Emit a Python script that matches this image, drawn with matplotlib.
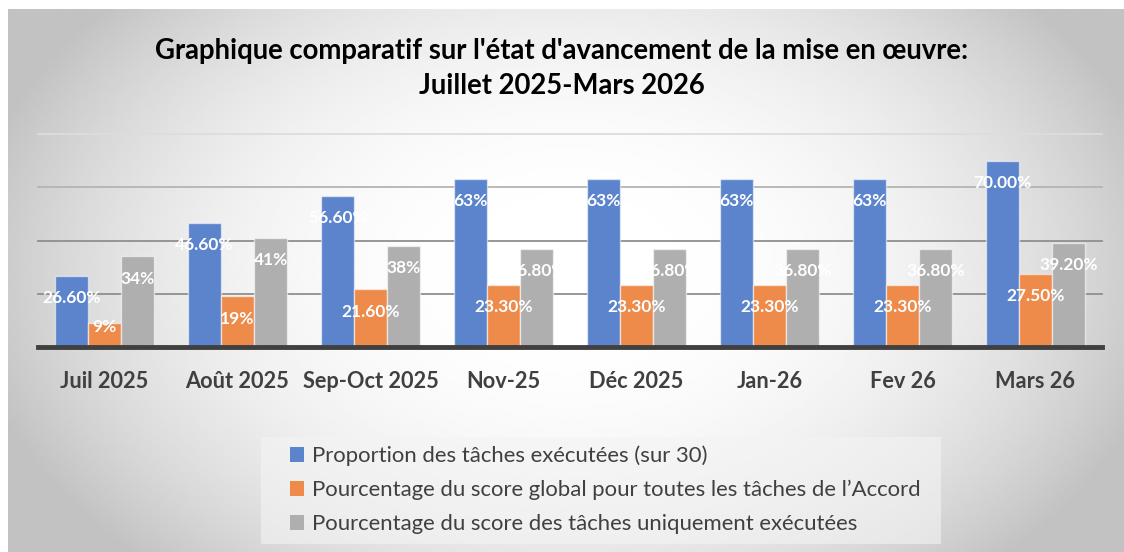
import numpy as np
import matplotlib.pyplot as plt
from matplotlib.patches import Patch, Rectangle

plt.rcParams['font.family'] = ['Lato', 'DejaVu Sans']

# data
months = ['Juil 2025', 'Août 2025', 'Sep-Oct 2025', 'Nov-25', 'Déc 2025', 'Jan-26', 'Fev 26', 'Mars 26']
series_names = ['Proportion des tâches exécutées (sur 30)',
                'Pourcentage du score global pour toutes les tâches de l\u2019Accord',
                'Pourcentage du score des tâches uniquement exécutées']
proportion = [26.6, 46.6, 56.6, 63, 63, 63, 63, 70.0]
score_global = [9, 19, 21.6, 23.3, 23.3, 23.3, 23.3, 27.5]
score_executees = [34, 41, 38, 36.8, 36.8, 36.8, 36.8, 39.2]
labels_proportion = ['26.60%', '46.60%', '56.60%', '63%', '63%', '63%', '63%', '70.00%']
labels_global = ['9%', '19%', '21.60%', '23.30%', '23.30%', '23.30%', '23.30%', '27.50%']
labels_executees = ['34%', '41%', '38%', '36.80%', '36.80%', '36.80%', '36.80%', '39.20%']
grid_values = [20, 40, 60, 80]

colors = ['#5B84CC', '#EE8B4B', '#AFAFAF']

W, H = 1124, 552
fig = plt.figure(figsize=(W / 100, H / 100), dpi=100)
fig.patch.set_facecolor('white')

# radial gradient background of the chart area
bg = fig.add_axes([8 / W, 0, 1 - 8 / W, 1 - 9 / H])
bg.set_axis_off()
xx, yy = np.meshgrid(np.linspace(8, W, 400), np.linspace(9, H, 200))
r = np.sqrt(((xx - 570) / 620) ** 2 + ((yy - 270) / 420) ** 2)
shade = np.clip(255 - 64 * r ** 2.5, 194, 255) / 255
bg.imshow(shade, cmap='gray', vmin=0, vmax=1, extent=[0, 1, 0, 1],
          aspect='auto', origin='upper', interpolation='bilinear')
bg.set_xlim(0, 1)
bg.set_ylim(0, 1)

ax = fig.add_axes([38 / W, (H - 347) / H, 1064 / W, 213 / H])
ax.patch.set_alpha(0)
ax.set_xlim(-0.5, len(months) - 0.5)
ax.set_ylim(0, 80)

grid_colors = {20: '#8f8f8f', 40: '#8f8f8f', 60: '#b4b4b4', 80: '#dddddd'}
for g in grid_values:
    ax.axhline(g, color=grid_colors[g], lw=1.3, zorder=0, clip_on=False)

x = np.arange(len(months))
w = 0.25
all_vals = [proportion, score_global, score_executees]
all_labels = [labels_proportion, labels_global, labels_executees]
for k, (vals, labs) in enumerate(zip(all_vals, all_labels)):
    pos = x + (k - 1) * w
    ax.bar(pos, vals, width=w, color=colors[k], edgecolor=(1, 1, 1, 0.55),
           linewidth=1, zorder=2)
    for px, v, lab in zip(pos, vals, labs):
        ly = max(v - 8.3, 7.6)
        ax.text(px, ly, lab, color='white', fontweight='bold', fontsize=12.5,
                ha='center', va='center', zorder=3)

ax.axhline(0, color='#404040', lw=3.5, zorder=4, clip_on=False)

ax.set_xticks(x)
ax.set_xticklabels(months, fontsize=15.7, fontweight='bold', color='#404040')
ax.tick_params(axis='x', length=0, pad=17)
ax.set_yticks([])
for s in ax.spines.values():
    s.set_visible(False)

fig.text(0.5, 1 - 51 / H, "Graphique comparatif sur l'état d'avancement de la mise en œuvre:",
         ha='center', va='center', fontsize=19.8, fontweight='bold', color='black')
fig.text(0.5, 1 - 86 / H, 'Juillet 2025-Mars 2026',
         ha='center', va='center', fontsize=19.8, fontweight='bold', color='black')

# legend panel
fig.patches.append(Rectangle((261 / W, 1 - 544 / H), 680 / W, 107 / H,
                             transform=fig.transFigure, facecolor='#f4f4f4',
                             edgecolor='none', alpha=0.6, zorder=1))
handles = [Patch(facecolor=c, edgecolor='none') for c in colors]
leg = fig.legend(handles, series_names, loc='upper left',
                 bbox_to_anchor=(272 / W, 1 - 428 / H), frameon=False,
                 fontsize=15.9, handlelength=0.65, handleheight=0.65,
                 handletextpad=0.35, labelspacing=0.62, borderpad=0.3,
                 labelcolor='#404040')

fig.savefig('out.png', dpi=100)
